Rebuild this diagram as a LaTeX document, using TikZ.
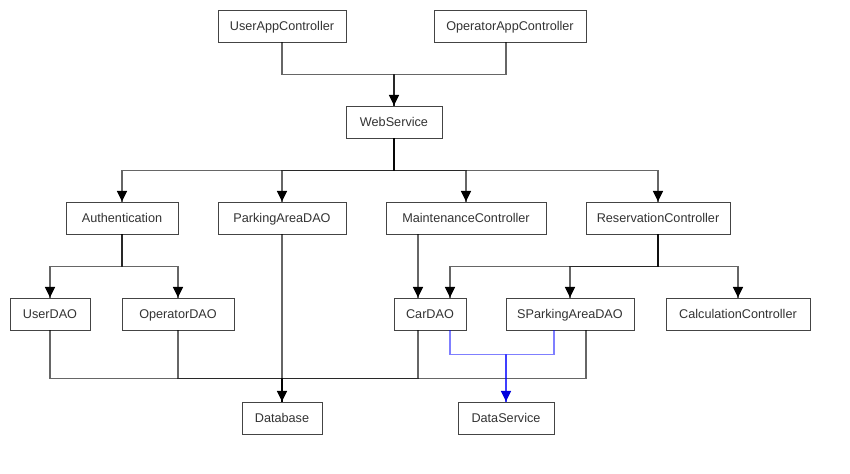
\documentclass[tikz,border=0pt]{standalone}
\usepackage{fontspec}
\setmainfont{Liberation Sans}
\usetikzlibrary{arrows.meta}
\definecolor{boxline}{HTML}{444444}
\definecolor{txt}{HTML}{333333}
\definecolor{bluetip}{HTML}{0000DD}
\begin{document}
\begin{tikzpicture}[x=0.75pt,y=-0.75pt,
  box/.style={draw=boxline, fill=white, line width=0.65pt, minimum height=24pt,
    inner sep=0pt, text height=8pt, text depth=1.5pt, text=txt, font=\fontsize{9.5}{11}\selectfont},
  ln/.style={draw=black, draw opacity=0.6, line width=1.1pt},
  bln/.style={draw=blue, draw opacity=0.5, line width=1.1pt},
  tipst/.style={draw=black, line width=1pt, -{Triangle[length=8pt,width=7.5pt]}},
  btipst/.style={draw=bluetip, line width=1pt, -{Triangle[length=8pt,width=7.5pt]}}
]
\useasboundingbox[fill=white] (0,0) rectangle (850,474);

% nodes
\node[box, minimum width=96pt]  (uac)  at (282,26)  {UserAppController};
\node[box, minimum width=114pt] (oac)  at (510,26)  {OperatorAppController};
\node[box, minimum width=72pt]  (ws)   at (394,122) {WebService};
\node[box, minimum width=84pt]  (auth) at (122,218) {Authentication};
\node[box, minimum width=96pt]  (pad)  at (282,218) {ParkingAreaDAO};
\node[box, minimum width=120pt] (mc)   at (466,218) {MaintenanceController};
\node[box, minimum width=108pt] (rc)   at (658,218) {ReservationController};
\node[box, minimum width=60pt]  (udao) at (50,314)  {UserDAO};
\node[box, minimum width=84pt]  (odao) at (178,314) {OperatorDAO};
\node[box, minimum width=54pt]  (car)  at (430,314) {CarDAO};
\node[box, minimum width=96pt]  (spad) at (570,314) {SParkingAreaDAO};
\node[box, minimum width=108pt] (calc) at (738,314) {CalculationController};
\node[box, minimum width=60pt]  (db)   at (282,418) {Database};
\node[box, minimum width=72pt]  (ds)   at (506,418) {DataService};

% connectors (lines)
\draw[ln] (uac.south) -- ++(0,32) -| (ws.north);
\draw[ln] ([xshift=-3pt]oac.south) -- ++(0,32) -| (ws.north);

\draw[ln] (ws.south) -- ++(0,32) -| (auth.north);
\draw[ln] (ws.south) -- ++(0,32) -| (pad.north);
\draw[ln] (ws.south) -- ++(0,32) -| (mc.north);
\draw[ln] (ws.south) -- ++(0,32) -| (rc.north);

\draw[ln] (auth.south) -- ++(0,32) -| (udao.north);
\draw[ln] (auth.south) -- ++(0,32) -| (odao.north);

\draw[ln] (pad.south) -- (db.north);
\draw[ln] ([xshift=-36pt]mc.south) -- ([xshift=-9pt]car.north);

\draw[ln] (rc.south) -- ++(0,32) -| ([xshift=15pt]car.north);
\draw[ln] (rc.south) -- ++(0,32) -| (spad.north);
\draw[ln] (rc.south) -- ++(0,32) -| (calc.north);

\draw[ln] (udao.south) -- ++(0,48) -| (db.north);
\draw[ln] (odao.south) -- ++(0,48) -| (db.north);
\draw[ln] ([xshift=-9pt]car.south) -- ++(0,48) -| (db.north);
\draw[ln] ([xshift=12pt]spad.south) -- ++(0,48) -| (db.north);

\draw[bln] ([xshift=15pt]car.south) -- ++(0,24) -| (ds.north);
\draw[bln] ([xshift=-12pt]spad.south) -- ++(0,24) -| (ds.north);

% arrow tips
\draw[tipst] ([yshift=1pt]ws.north) -- (ws.north);
\draw[tipst] ([yshift=1pt]auth.north) -- (auth.north);
\draw[tipst] ([yshift=1pt]pad.north) -- (pad.north);
\draw[tipst] ([yshift=1pt]mc.north) -- (mc.north);
\draw[tipst] ([yshift=1pt]rc.north) -- (rc.north);
\draw[tipst] ([yshift=1pt]udao.north) -- (udao.north);
\draw[tipst] ([yshift=1pt]odao.north) -- (odao.north);
\draw[tipst] ([xshift=-9pt,yshift=1pt]car.north) -- ([xshift=-9pt]car.north);
\draw[tipst] ([xshift=15pt,yshift=1pt]car.north) -- ([xshift=15pt]car.north);
\draw[tipst] ([yshift=1pt]spad.north) -- (spad.north);
\draw[tipst] ([yshift=1pt]calc.north) -- (calc.north);
\draw[tipst] ([yshift=1pt]db.north) -- (db.north);
\draw[btipst] ([yshift=1pt]ds.north) -- (ds.north);
\end{tikzpicture}
\end{document}
